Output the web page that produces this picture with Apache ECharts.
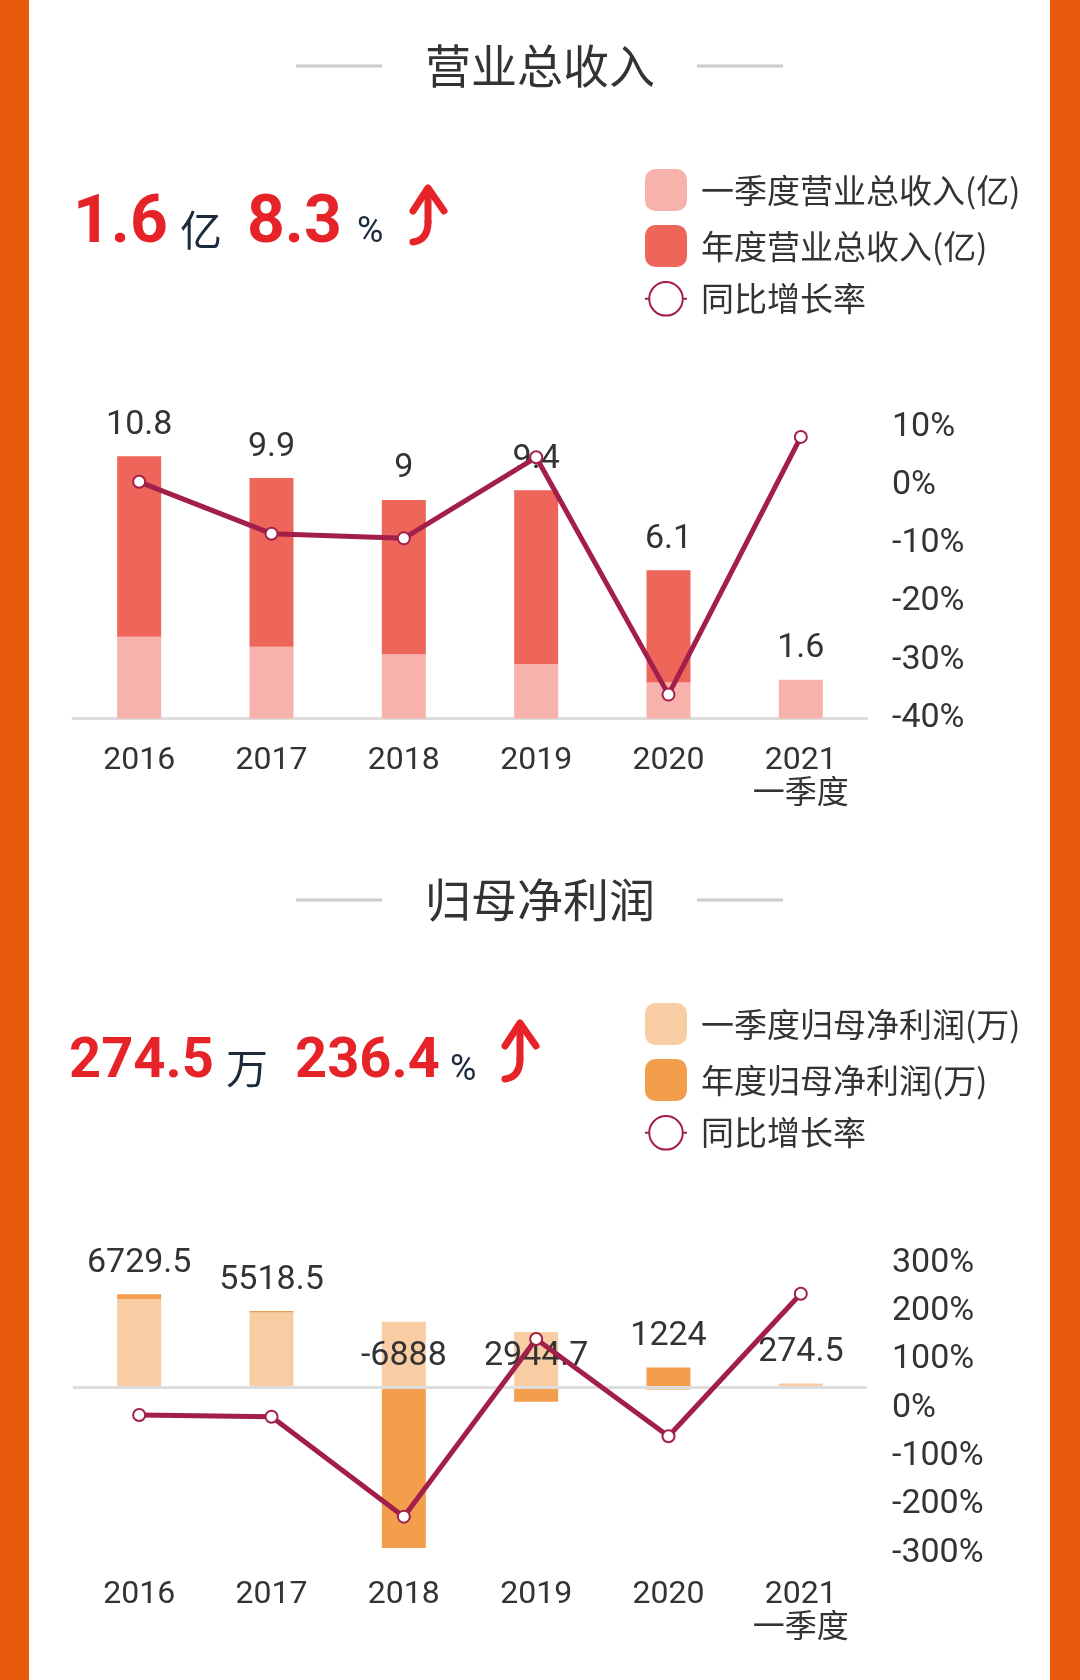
<!DOCTYPE html>
<html>
<head>
<meta charset="utf-8">
<script src="https://cdn.jsdelivr.net/npm/echarts@6/dist/echarts.min.js"></script>
<style>
html, body { margin: 0; padding: 0; background: #fff; }
#main { width: 1080px; height: 1680px; }
</style>
</head>
<body>
<div id="main"></div>
<script>
// x categories
const years = ['2016', '2017', '2018', '2019', '2020', '2021\n一季度'];

// 营业总收入 (亿)
const revenueYear = [10.8, 9.9, 9, 9.4, 6.1, null];
const revenueQ1 = [3.37, 2.95, 2.65, 2.24, 1.48, 1.6];
const revenueGrowth = [0.6, -8.3, -9.1, 4.8, -35.9, 8.3];
const revenueRateTicks = [-40, -30, -20, -10, 0, 10];

// 归母净利润 (万)
const profitYear = [6729.5, 5518.5, -6888, 2944.7, 1224, null];
const profitQ1 = [6372, 5420, 4750, 4000, -201.2, 274.5];
const profitGrowth = [-14.5, -18.0, -224.8, 142.8, -58.4, 236.4];
const profitRateTicks = [-300, -200, -100, 0, 100, 200, 300];

const FONT = "Roboto, 'Noto Sans CJK SC', sans-serif";
const CJK = "'Noto Sans CJK SC', sans-serif";
const RED = '#E62328';
const NAVY = '#1C2A3C';
const LINE = '#A21F4A';

// stacked on top of the Q1 bar, the remainder makes the yearly total
const rest = (year, q1) => year.map((v, i) => v == null ? null : +(v - q1[i]).toFixed(2));

function rateAxis(gridIndex, ticks) {
    return {
        gridIndex: gridIndex,
        type: 'value',
        position: 'right',
        min: ticks[0],
        max: ticks[ticks.length - 1],
        interval: ticks[1] - ticks[0],
        axisLine: { show: false },
        axisTick: { show: false },
        splitLine: { show: false },
        axisLabel: { formatter: '{value}%', fontSize: 34, color: '#333', margin: 25, fontFamily: 'Roboto' }
    };
}

function catAxis(gridIndex, showLine) {
    return {
        gridIndex: gridIndex,
        type: 'category',
        data: years,
        axisLine: { show: showLine, onZero: false, lineStyle: { color: '#dddddd', width: 3 } },
        axisTick: { show: false },
        axisLabel: { fontSize: 32, color: '#333', margin: 25, lineHeight: 34, fontFamily: FONT }
    };
}

const barLabel = (fmt) => ({
    show: true, position: 'top', distance: 14,
    fontSize: 34, color: '#333', fontFamily: 'Roboto',
    formatter: fmt
});

function lineSeries(name, xi, yi, data) {
    return {
        name: name, type: 'line', xAxisIndex: xi, yAxisIndex: yi, data: data, z: 5,
        symbol: 'emptyCircle', symbolSize: 12,
        lineStyle: { color: LINE, width: 5 },
        itemStyle: { color: LINE, borderWidth: 2.5 }
    };
}

// arrow: hook at the bottom, stem, head
function arrow(x, top, bottom) {
    const st = { stroke: RED, lineWidth: 7, fill: null, lineCap: 'round', lineJoin: 'round' };
    return [
        { type: 'bezierCurve', shape: { x1: x - 15, y1: bottom, cpx1: x, cpy1: bottom - 2, x2: x, y2: bottom - 20 }, style: st },
        { type: 'line', shape: { x1: x, y1: bottom - 20, x2: x, y2: top + 4 }, style: st },
        { type: 'polyline', shape: { points: [[x - 15, top + 26], [x, top + 3], [x + 16, top + 26]] }, style: st }
    ];
}

function header(title, ty, big, unit, pct, pos) {
    return [
        { type: 'text', style: { text: title, x: 540, y: ty, align: 'center', verticalAlign: 'middle', font: '46px ' + CJK, fill: '#333' } },
        { type: 'line', shape: { x1: 296, y1: ty, x2: 382, y2: ty }, style: { stroke: '#cccccc', lineWidth: 3 } },
        { type: 'line', shape: { x1: 697, y1: ty, x2: 783, y2: ty }, style: { stroke: '#cccccc', lineWidth: 3 } },
        { type: 'text', style: { text: big, x: pos[0], y: pos[1], verticalAlign: 'middle', font: 'bold ' + pos[2] + 'px Roboto', fill: RED } },
        { type: 'text', style: { text: unit, x: pos[3], y: pos[1] + 5, verticalAlign: 'middle', font: '42px ' + CJK, fill: NAVY } },
        { type: 'text', style: { text: pct, x: pos[4], y: pos[1], verticalAlign: 'middle', font: 'bold ' + pos[2] + 'px Roboto', fill: RED } },
        { type: 'text', style: { text: '%', x: pos[5], y: pos[1] + 8, verticalAlign: 'middle', font: '36px Roboto', fill: NAVY } }
    ];
}

function legend(top, names) {
    return {
        left: 644, top: top, padding: 0, orient: 'vertical',
        itemWidth: 42, itemHeight: 42, itemGap: 14,
        textStyle: { fontSize: 33, color: '#333', fontFamily: CJK, padding: [0, 0, 0, 9] },
        data: [
            { name: names[0], icon: 'roundRect' },
            { name: names[1], icon: 'roundRect' },
            names[2]
        ]
    };
}

const chart = echarts.init(document.getElementById('main'));

chart.setOption({
    animation: false,
    backgroundColor: '#fff',
    textStyle: { fontFamily: FONT },
    graphic: [
        { type: 'rect', shape: { x: 0, y: 0, width: 29, height: 1680 }, style: { fill: '#E8590C' } },
        { type: 'rect', shape: { x: 1050, y: 0, width: 30, height: 1680 }, style: { fill: '#E8590C' } }
    ].concat(
        header('营业总收入', 66, '1.6', '亿', '8.3', [73, 225, 66, 180, 247, 357]),
        arrow(428, 185, 242),
        header('归母净利润', 900, '274.5', '万', '236.4', [69, 1063, 56, 226, 295, 450]),
        arrow(520, 1020, 1079)
    ),
    legend: [
        legend(169, ['一季度营业总收入(亿)', '年度营业总收入(亿)', '同比增长率']),
        legend(1003, ['一季度归母净利润(万)', '年度归母净利润(万)', '同比增长率'])
    ],
    grid: [
        { left: 73, top: 427, width: 794, height: 291.5 },
        { left: 73, top: 1263, width: 794, height: 290 }
    ],
    xAxis: [catAxis(0, true), catAxis(1, false)],
    yAxis: [
        { gridIndex: 0, type: 'value', show: false, min: 0, max: 12 },
        rateAxis(0, revenueRateTicks),
        { gridIndex: 1, type: 'value', show: false, min: -12000, max: 9000 },
        rateAxis(1, profitRateTicks)
    ],
    series: [
        {
            name: '一季度营业总收入(亿)', type: 'bar', xAxisIndex: 0, yAxisIndex: 0, stack: 'rev', barWidth: 44,
            data: revenueQ1, itemStyle: { color: '#F7B2AB' },
            label: barLabel(p => revenueYear[p.dataIndex] == null ? p.value : '')
        },
        {
            name: '年度营业总收入(亿)', type: 'bar', xAxisIndex: 0, yAxisIndex: 0, stack: 'rev', barWidth: 44,
            data: rest(revenueYear, revenueQ1), itemStyle: { color: '#EE665A' },
            label: barLabel(p => revenueYear[p.dataIndex])
        },
        lineSeries('同比增长率', 0, 1, revenueGrowth),
        {
            name: '一季度归母净利润(万)', type: 'bar', xAxisIndex: 1, yAxisIndex: 2, stack: 'profit', barWidth: 44,
            data: profitQ1, itemStyle: { color: '#F8CDA3' },
            label: barLabel(p => profitYear[p.dataIndex] == null ? p.value : ''),
            markLine: {
                silent: true, symbol: 'none', label: { show: false },
                lineStyle: { color: '#dddddd', width: 3, type: 'solid' },
                data: [{ yAxis: 0 }]
            }
        },
        {
            name: '年度归母净利润(万)', type: 'bar', xAxisIndex: 1, yAxisIndex: 2, stack: 'profit', barWidth: 44,
            data: rest(profitYear, profitQ1), itemStyle: { color: '#F29E4C' },
            label: barLabel(p => profitYear[p.dataIndex])
        },
        lineSeries('同比增长率', 1, 3, profitGrowth)
    ]
});
</script>
</body>
</html>
